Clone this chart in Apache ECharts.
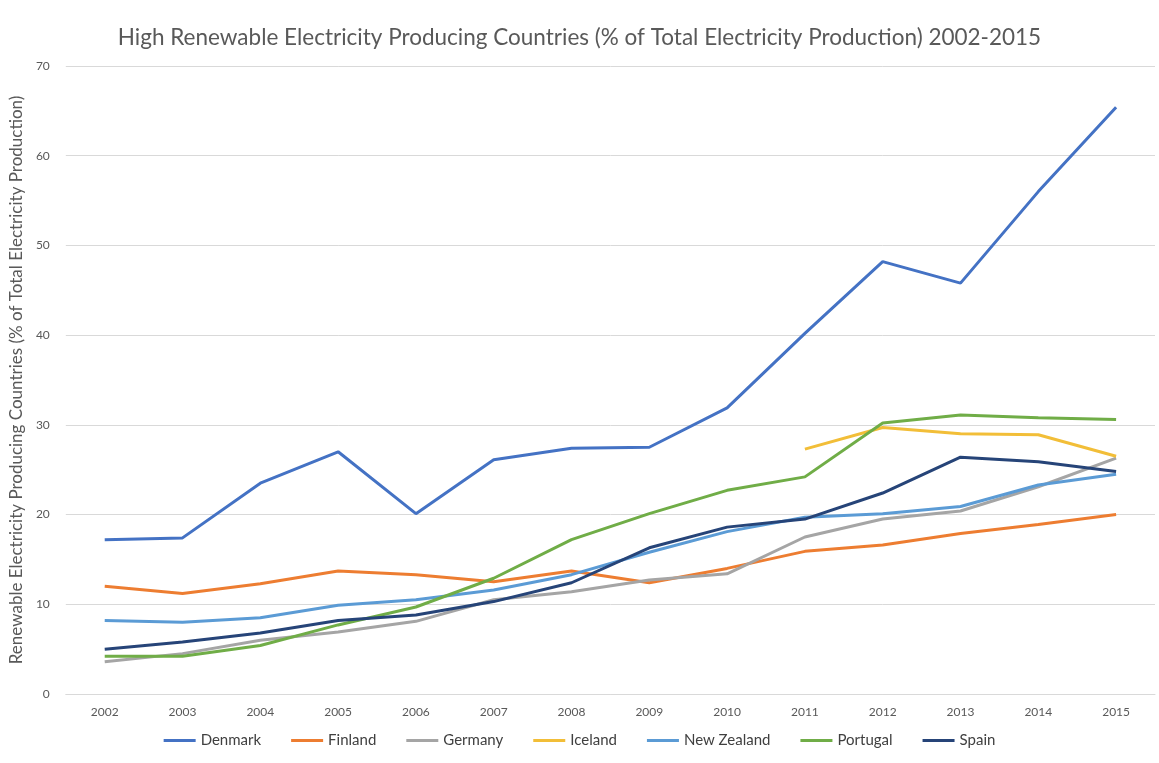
<!DOCTYPE html>
<html lang="en">

<head>
    <meta charset="UTF-8">
    <title>High Renewable Electricity Producing Countries</title>
    <script src="https://cdn.jsdelivr.net/npm/echarts@6/dist/echarts.min.js"></script>
    <style>
        html, body { margin: 0; padding: 0; background: #fff; }
        .chart { width: 1159px; height: 763px; }
    </style>
</head>

<body>
    <div class="chart"></div>
</body>
<script>
    // years on the x axis
    var years = ['2002', '2003', '2004', '2005', '2006', '2007', '2008', '2009', '2010', '2011', '2012', '2013', '2014', '2015']

    // % of total electricity production
    var denmark = [17.2, 17.4, 23.5, 27.0, 20.1, 26.1, 27.4, 27.5, 31.9, 40.2, 48.2, 45.8, 56.0, 65.4]
    var finland = [12.0, 11.2, 12.3, 13.7, 13.3, 12.5, 13.7, 12.4, 14.0, 15.9, 16.6, 17.9, 18.9, 20.0]
    var germany = [3.6, 4.5, 6.0, 6.9, 8.1, 10.5, 11.4, 12.7, 13.4, 17.5, 19.5, 20.4, 23.1, 26.3]
    var iceland = [null, null, null, null, null, null, null, null, null, 27.3, 29.7, 29.0, 28.9, 26.5]
    var newZealand = [8.2, 8.0, 8.5, 9.9, 10.5, 11.6, 13.3, 15.8, 18.1, 19.7, 20.1, 20.9, 23.3, 24.5]
    var portugal = [4.2, 4.2, 5.4, 7.7, 9.7, 12.9, 17.2, 20.1, 22.7, 24.2, 30.2, 31.1, 30.8, 30.6]
    var spain = [5.0, 5.8, 6.8, 8.2, 8.8, 10.3, 12.4, 16.3, 18.6, 19.5, 22.4, 26.4, 25.9, 24.8]

    var names = ['Denmark', 'Finland', 'Germany', 'Iceland', 'New Zealand', 'Portugal', 'Spain']
    var colors = ['#4472C4', '#ED7D31', '#A5A5A5', '#F2BE38', '#5B9BD5', '#70AD47', '#264478']
    var values = [denmark, finland, germany, iceland, newZealand, portugal, spain]

    var font = 'Lato'
    var mCharts = echarts.init(document.querySelector('.chart'))

    var series = names.map(function (n, i) {
        return {
            name: n,
            type: 'line',
            data: values[i],
            symbol: 'none',
            lineStyle: { width: 3, color: colors[i] },
            itemStyle: { color: colors[i] },
            animation: false
        }
    })

    var option = {
        backgroundColor: '#fff',
        title: {
            text: 'High Renewable Electricity Producing Countries (% of Total Electricity Production) 2002-2015',
            left: 'center',
            top: 21,
            textStyle: { fontFamily: font, fontSize: 22.5, fontWeight: 'normal', color: '#595959' }
        },
        legend: {
            data: names,
            bottom: 10,
            icon: 'rect',
            itemWidth: 32,
            itemHeight: 3,
            itemGap: 30,
            textStyle: { fontFamily: font, fontSize: 15, color: '#404040' }
        },
        grid: { left: 61, right: 4, top: 66, bottom: 69 },
        xAxis: {
            type: 'category',
            data: years,
            boundaryGap: true,
            axisLine: { show: true, lineStyle: { color: '#d9d9d9' } },
            axisTick: { show: false },
            axisLabel: { fontFamily: font, fontSize: 12, color: '#595959', margin: 12 }
        },
        yAxis: {
            type: 'value',
            min: 0,
            max: 70,
            interval: 10,
            name: 'Renewable Electricity Producing Countries (% of Total Electricity Production)',
            nameLocation: 'middle',
            nameGap: 38,
            nameTextStyle: { fontFamily: font, fontSize: 17, color: '#595959' },
            axisLine: { show: false },
            axisTick: { show: false },
            axisLabel: { fontFamily: font, fontSize: 12, color: '#595959', margin: 16 },
            splitLine: { lineStyle: { color: '#d9d9d9' } }
        },
        series: series
    }
    mCharts.setOption(option)
</script>

</html>
